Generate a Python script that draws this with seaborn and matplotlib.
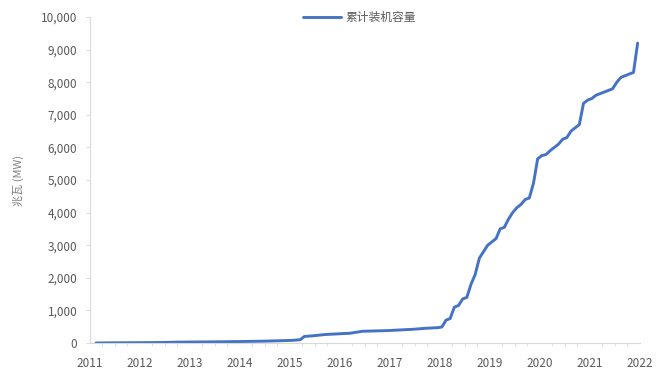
import matplotlib
matplotlib.use("Agg")
import matplotlib.pyplot as plt
from matplotlib.ticker import FuncFormatter, MultipleLocator
import seaborn as sns
import pandas as pd

# Cumulative installed capacity (MW), dated by month
months = [
    "2011-02", "2011-06", "2012-01", "2012-06", "2012-09", "2013-01", "2013-06",
    "2014-01", "2014-06", "2015-01", "2015-03", "2015-04", "2015-06", "2015-09",
    "2015-12", "2016-03", "2016-06", "2016-09", "2016-12", "2017-03", "2017-06",
    "2017-09", "2017-12",
    "2018-01", "2018-02", "2018-03", "2018-04", "2018-05", "2018-06", "2018-07",
    "2018-08", "2018-09", "2018-10", "2018-11", "2018-12",
    "2019-01", "2019-02", "2019-03", "2019-04", "2019-05", "2019-06", "2019-07",
    "2019-08", "2019-09", "2019-10", "2019-11", "2019-12",
    "2020-01", "2020-02", "2020-03", "2020-04", "2020-05", "2020-06", "2020-07",
    "2020-08", "2020-09", "2020-10", "2020-11", "2020-12",
    "2021-01", "2021-02", "2021-03", "2021-04", "2021-05", "2021-06", "2021-07",
    "2021-08", "2021-09", "2021-10", "2021-11", "2021-12",
]
capacity_mw = [
    0, 5, 10, 15, 25, 30, 35,
    45, 55, 80, 100, 200, 220, 260,
    280, 300, 360, 370, 380, 400, 420,
    450, 470,
    490, 700, 750, 1100, 1150, 1350, 1400,
    1800, 2100, 2600, 2800, 3000,
    3100, 3200, 3500, 3550, 3800, 4000, 4150,
    4250, 4400, 4450, 4900, 5650,
    5750, 5780, 5900, 6000, 6100, 6250, 6300,
    6500, 6600, 6700, 7350, 7450,
    7500, 7600, 7650, 7700, 7750, 7800, 8000,
    8150, 8200, 8250, 8300, 9200,
]
year_ticks = list(range(2011, 2023))
series_name = "累计装机容量"
y_label = "兆瓦 (MW)"

dates = pd.to_datetime(months)
df = pd.DataFrame({
    "year": dates.year + (dates.month - 0.5) / 12.0,
    "value": capacity_mw,
    "series": series_name,
})

sns.set_theme(style="white")
plt.rcParams["font.family"] = ["Noto Sans CJK SC", "DejaVu Sans"]

fig = plt.figure(figsize=(6.65, 3.7), dpi=100)
ax = fig.add_axes([0.135, 0.073, 0.827, 0.881])

sns.lineplot(data=df, x="year", y="value", hue="series",
             palette=["#4472C4"], linewidth=2.1, ax=ax)

ax.set_xlim(2011, 2022)
ax.set_ylim(0, 10000)
ax.set_xticks(year_ticks)
ax.set_xticklabels([str(y) for y in year_ticks])
ax.xaxis.set_minor_locator(MultipleLocator(0.25))
ax.set_yticks(range(0, 10001, 1000))
ax.yaxis.set_major_formatter(FuncFormatter(lambda v, p: f"{int(v):,}"))

grey = "#595959"
for side in ("top", "right"):
    ax.spines[side].set_visible(False)
for side in ("left", "bottom"):
    ax.spines[side].set_color("#D9D9D9")
    ax.spines[side].set_linewidth(0.8)

ax.tick_params(axis="y", which="major", left=True, length=3, width=0.7,
               color="#D9D9D9", labelsize=8.5, labelcolor=grey, pad=6)
ax.tick_params(axis="x", which="major", bottom=False, labelsize=8.5,
               labelcolor=grey, pad=4)
ax.tick_params(axis="x", which="minor", bottom=True, length=2, width=0.6,
               color="#D9D9D9")

ax.set_xlabel("")
ax.set_ylabel(y_label, fontsize=8, color="#7F7F7F", labelpad=12)

leg = ax.legend(loc="upper center", bbox_to_anchor=(0.49, 1.05), frameon=False,
                fontsize=8.5, handlelength=3.2, handletextpad=0.4)
for t in leg.get_texts():
    t.set_color(grey)

fig.savefig("out.png", dpi=100)
